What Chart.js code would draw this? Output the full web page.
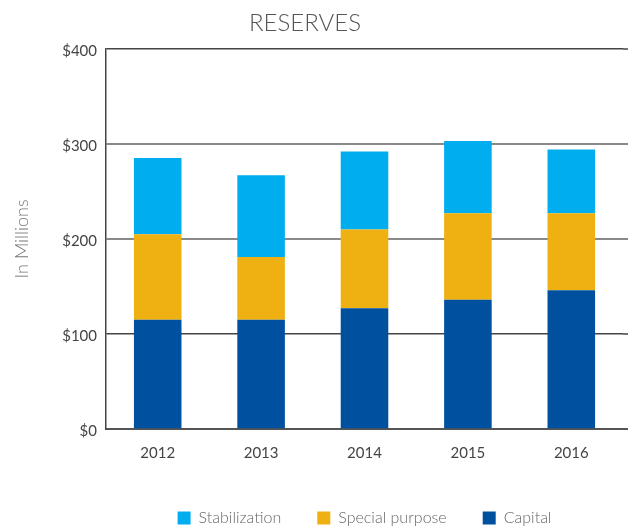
<!DOCTYPE html>
<html>
<head>
<meta charset="utf-8">
<script src="https://cdn.jsdelivr.net/npm/chart.js@4"></script>
<style>
    html, body { margin: 0; padding: 0; background: #fff; }
    #wrap { width: 628px; height: 527px; }
</style>
</head>
<body>
<div id="wrap"><canvas id="myChart"></canvas></div>
<script>
const years = ['2012', '2013', '2014', '2015', '2016'];
const capital = [115, 115, 127, 136, 146];
const specialPurpose = [90, 66, 83, 91, 81];
const stabilization = [80, 86, 82, 76, 67];
const yTicks = [0, 100, 200, 300, 400];

const FONT = 'Lato, "Open Sans", sans-serif';

// grid lines run past the chart area to the right edge of the picture
const extendGrid = {
    id: 'extendGrid',
    afterLayout(chart) {
        // title sits a little left of the canvas centre
        chart.titleBlock.left = 0;
        chart.titleBlock.right = chart.width - 18;
    },
    afterDraw(chart) {
        const y = chart.scales.y;
        const ctx = chart.ctx;
        ctx.save();
        y.ticks.forEach(t => {
            if (t.value === 0) return;
            const py = Math.round(y.getPixelForValue(t.value));
            ctx.strokeStyle = gridColor(t.value);
            ctx.lineWidth = gridWidth(t.value);
            ctx.beginPath();
            ctx.moveTo(chart.chartArea.right, py);
            ctx.lineTo(chart.width, py);
            ctx.stroke();
        });
        const by = Math.round(y.getPixelForValue(0));
        ctx.strokeStyle = '#555';
        ctx.lineWidth = 2;
        ctx.beginPath();
        ctx.moveTo(chart.chartArea.right, by);
        ctx.lineTo(chart.width, by);
        ctx.stroke();
        ctx.restore();
    }
};

function gridColor(v) {
    return (v === 200 || v === 300) ? '#8a8a8a' : '#444';
}
function gridWidth(v) {
    return (v === 200 || v === 300) ? 2 : 1.5;
}

const data = {
    labels: years,
    datasets: [
        {
            label: 'Capital',
            data: capital,
            backgroundColor: '#0050a0',
        }, {
            label: 'Special purpose',
            data: specialPurpose,
            backgroundColor: '#eeb111',
        }, {
            label: 'Stabilization',
            data: stabilization,
            backgroundColor: '#00adef',
        },
    ],
};

let ctx = document.getElementById('myChart').getContext('2d');

var myChart = new Chart(ctx, {
    type: 'bar',
    data: data,
    plugins: [extendGrid],
    options: {
        responsive: true,
        maintainAspectRatio: false,
        animation: false,
        layout: {
            padding: { left: 0, right: 5, top: 0, bottom: 0 }
        },
        datasets: {
            bar: {
                categoryPercentage: 1,
                barPercentage: 0.46,
            }
        },
        plugins: {
            title: {
                display: true,
                text: 'RESERVES',
                color: '#555',
                font: { family: FONT, size: 24, weight: '300', lineHeight: 1.2 },
                padding: { top: 9, bottom: 11 },
            },
            legend: {
                display: true,
                position: 'bottom',
                fullSize: false,
                reverse: true,
                maxHeight: 53,
                labels: {
                    boxWidth: 13,
                    boxHeight: 13,
                    padding: 36,
                    color: '#666',
                    font: { family: FONT, size: 16, weight: '300' },
                },
            },
            tooltip: { enabled: false },
        },
        scales: {
            x: {
                stacked: true,
                afterFit(axis) { axis.height = 45; },
                grid: { display: false, drawTicks: false },
                border: { display: true, color: '#555', width: 2 },
                ticks: {
                    padding: 15,
                    color: '#444',
                    font: { family: FONT, size: 15 },
                },
            },
            y: {
                stacked: true,
                min: 0,
                max: 400,
                afterFit(axis) { axis.width = 106; },
                afterBuildTicks(axis) {
                    axis.ticks = yTicks.map(v => ({ value: v }));
                },
                title: {
                    display: true,
                    text: 'In Millions',
                    color: '#777',
                    font: { family: FONT, size: 18, weight: '300' },
                    padding: { top: 11, bottom: 0 },
                },
                grid: {
                    drawTicks: false,
                    color: c => gridColor(c.tick.value),
                    lineWidth: c => gridWidth(c.tick.value),
                },
                border: { display: true, color: '#444', width: 1.5 },
                ticks: {
                    padding: 9,
                    labelOffset: 2,
                    color: '#444',
                    font: { family: FONT, size: 15 },
                    callback: v => '$' + v,
                },
            },
        },
    },
});
</script>
</body>
</html>
